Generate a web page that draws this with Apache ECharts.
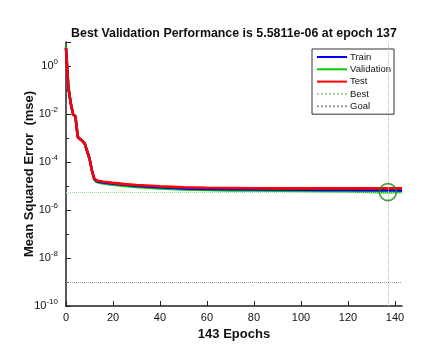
<!DOCTYPE html>
<html>
<head>
<meta charset="utf-8">
<script src="https://cdn.jsdelivr.net/npm/echarts@6/dist/echarts.min.js"></script>
<style>
  html, body { margin: 0; padding: 0; background: #fff; }
  #perf { width: 443px; height: 353px; }
</style>
</head>
<body>
<div id="perf"></div>
<script>
    var epochs = [0, 1, 2, 3, 4, 5, 6, 7, 8, 9, 10, 11, 12, 13, 14, 16, 20, 25, 30, 40, 50, 60, 70, 80, 90, 100, 110, 120, 130, 137, 143];

    var trainMse = [5.6, 0.13, 0.029, 0.0097, 0.0080, 1.1e-3, 9.0e-4, 7.5e-4, 5.7e-4, 2.8e-4, 1.4e-4, 4.6e-5, 2.0e-5, 1.62e-5, 1.5e-5, 1.41e-5, 1.26e-5, 1.12e-5, 1.0e-5, 8.9e-6, 7.9e-6, 7.6e-6, 7.4e-6, 7.2e-6, 7.1e-6, 7.0e-6, 6.9e-6, 6.8e-6, 6.7e-6, 6.7e-6, 6.6e-6];
    var validMse = [6.3, 0.13, 0.030, 0.0098, 0.0081, 1.15e-3, 9.2e-4, 7.6e-4, 5.8e-4, 2.9e-4, 1.4e-4, 4.5e-5, 1.9e-5, 1.5e-5, 1.38e-5, 1.29e-5, 1.12e-5, 1.0e-5, 9.1e-6, 7.9e-6, 7.2e-6, 6.9e-6, 6.6e-6, 6.45e-6, 6.3e-6, 6.2e-6, 6.0e-6, 5.9e-6, 5.7e-6, 5.5811e-6, 5.6e-6];
    var testMse = [5.5, 0.126, 0.028, 0.0095, 0.0079, 1.1e-3, 8.9e-4, 7.4e-4, 5.6e-4, 2.8e-4, 1.4e-4, 4.5e-5, 2.1e-5, 1.74e-5, 1.62e-5, 1.51e-5, 1.35e-5, 1.2e-5, 1.1e-5, 9.8e-6, 8.9e-6, 8.5e-6, 8.3e-6, 8.1e-6, 8.0e-6, 8.0e-6, 8.0e-6, 8.0e-6, 8.0e-6, 8.0e-6, 8.0e-6];

    var bestEpoch = 137;
    var bestPerf = 5.5811e-6;
    var goalPerf = 1e-9;
    var yExpTicks = [-10, -8, -6, -4, -2, 0];

    function toLog(arr) {
        return arr.map(function (v, i) { return [epochs[i], Math.log10(v)]; });
    }

    var chart = echarts.init(document.getElementById('perf'));
    var fontFam = '"Liberation Sans", Arial, sans-serif';

    chart.setOption({
        animation: false,
        backgroundColor: '#fff',
        title: {
            text: 'Best Validation Performance is 5.5811e-06 at epoch 137',
            left: 229, top: 23, textAlign: 'center',
            textStyle: { fontFamily: fontFam, fontSize: 12.4, fontWeight: 'bold', color: '#111' }
        },
        grid: { left: 66, right: 41, top: 42, bottom: 47 },
        legend: {
            data: ['Train', 'Validation', 'Test', 'Best', 'Goal'],
            orient: 'vertical',
            left: 312, top: 49,
            padding: [3, 3, 3, 4],
            itemWidth: 30, itemHeight: 10, itemGap: 2.3,
            itemStyle: { opacity: 0 },
            borderColor: '#333', borderWidth: 1,
            backgroundColor: '#fff',
            textStyle: { fontFamily: fontFam, fontSize: 9.5, color: '#111', padding: [0, 0, 0, -2] }
        },
        xAxis: {
            type: 'value',
            min: 0, max: 143, interval: 20,
            name: '143 Epochs', nameLocation: 'middle', nameGap: 21,
            nameTextStyle: { fontFamily: fontFam, fontSize: 13, fontWeight: 'bold', color: '#111' },
            axisLine: { onZero: false, lineStyle: { color: '#222', width: 1.5 } },
            axisTick: { inside: true, length: 5, lineStyle: { color: '#222' } },
            axisLabel: {
                fontFamily: fontFam, fontSize: 11, color: '#111', margin: 6,
                showMaxLabel: false,
                formatter: function (v) { return v % 20 === 0 ? String(v) : ''; }
            },
            splitLine: { show: false }
        },
        yAxis: {
            type: 'value',
            min: -10, max: 1, interval: 2,
            name: 'Mean Squared Error  (mse)', nameLocation: 'middle', nameGap: 30,
            nameMoveOverlap: false,
            nameTextStyle: { fontFamily: fontFam, fontSize: 13, fontWeight: 'bold', color: '#111' },
            axisLine: { onZero: false, lineStyle: { color: '#222', width: 1.5 } },
            axisTick: { inside: true, length: 5, lineStyle: { color: '#222' } },
            minorTick: { show: true, splitNumber: 2, length: 3, lineStyle: { color: '#222' } },
            axisLabel: {
                fontFamily: fontFam, fontSize: 11, color: '#111', margin: 8,
                formatter: function (v) {
                    return yExpTicks.indexOf(v) >= 0 ? '10{s|' + v + '}' : '';
                },
                rich: { s: { fontSize: 8, verticalAlign: 'top', padding: [0, 0, 8, 0], fontFamily: fontFam, color: '#111' } }
            },
            splitLine: { show: false }
        },
        series: [
            {
                name: 'Train', type: 'line', symbol: 'none', data: toLog(trainMse),
                lineStyle: { color: '#0000ff', width: 2.6 }, itemStyle: { color: '#0000ff' }, z: 3
            },
            {
                name: 'Validation', type: 'line', symbol: 'none', data: toLog(validMse),
                lineStyle: { color: '#00cc00', width: 2.6 }, itemStyle: { color: '#00cc00' }, z: 2
            },
            {
                name: 'Test', type: 'line', symbol: 'none', data: toLog(testMse),
                lineStyle: { color: '#ff0000', width: 2.6 }, itemStyle: { color: '#ff0000' }, z: 4
            },
            {
                name: 'Best', type: 'line', symbol: 'none', data: [],
                lineStyle: { color: '#9fd49f', width: 1, type: 'dotted' }, itemStyle: { color: '#9fd49f' },
                markLine: {
                    silent: true, symbol: 'none', label: { show: false },
                    lineStyle: { color: '#9fd49f', width: 1, type: 'dotted' },
                    data: [{ xAxis: bestEpoch }, { yAxis: Math.log10(bestPerf) }]
                }, z: 1
            },
            {
                name: 'Goal', type: 'line', symbol: 'none', data: [],
                lineStyle: { color: '#999', width: 1, type: 'dotted' }, itemStyle: { color: '#999' },
                markLine: {
                    silent: true, symbol: 'none', label: { show: false },
                    lineStyle: { color: '#999', width: 1, type: 'dotted' },
                    data: [{ yAxis: Math.log10(goalPerf) }]
                }, z: 1
            },
            {
                name: 'bestPoint', type: 'scatter', symbol: 'circle', symbolSize: 17,
                data: [[bestEpoch, Math.log10(bestPerf)]],
                itemStyle: { color: 'rgba(0,0,0,0)', borderColor: '#1a8a1a', borderWidth: 1.6 }, z: 5
            }
        ]
    });
</script>
</body>
</html>
